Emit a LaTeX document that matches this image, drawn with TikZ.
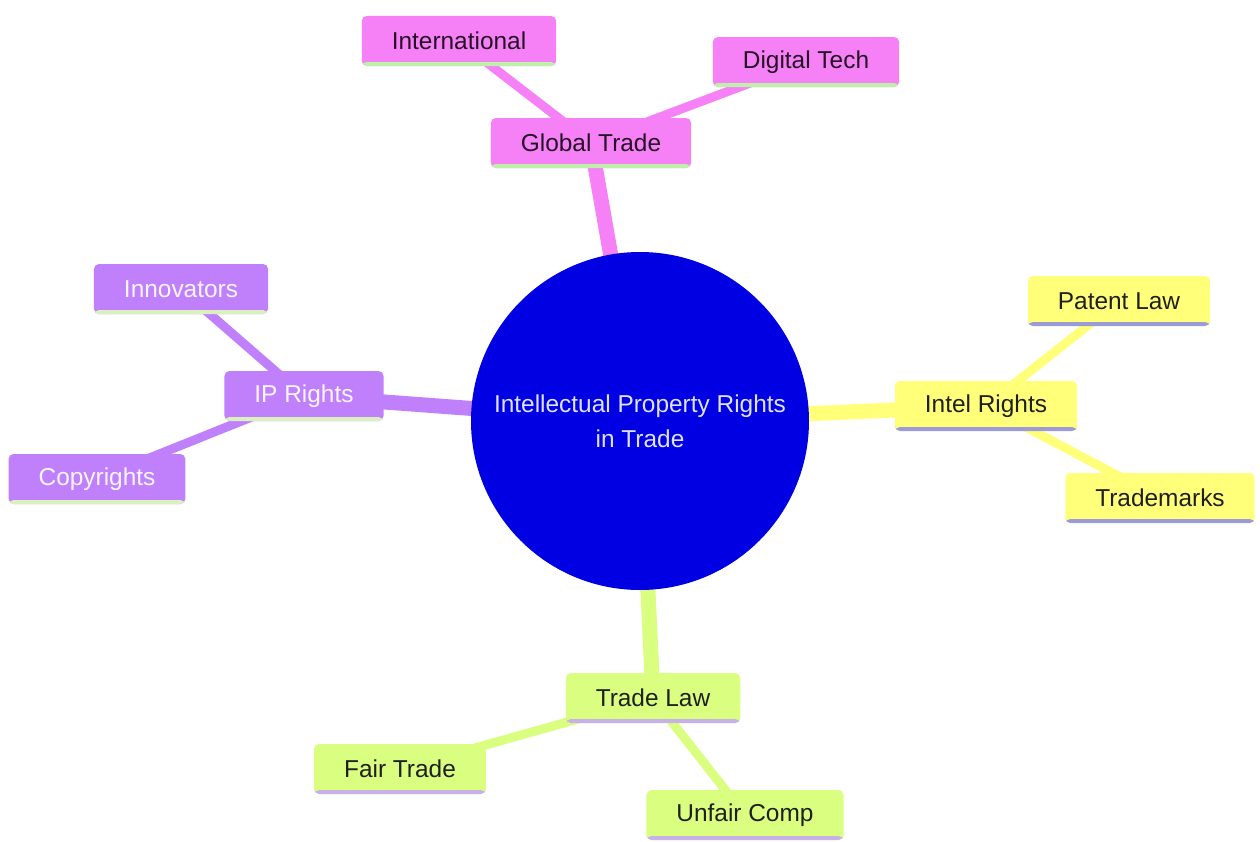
\documentclass[tikz,border=0pt]{standalone}
\usepackage{fontspec}
\setmainfont{Liberation Sans}
\usepackage{tikz}
\pgfdeclarelayer{edgelayer}
\pgfdeclarelayer{nodelayer}
\pgfsetlayers{edgelayer,nodelayer,main}
\definecolor{rootblue}{RGB}{0,0,226}
\definecolor{pinkfill}{RGB}{246,128,246}
\definecolor{purplefill}{RGB}{192,128,252}
\definecolor{yellowfill}{RGB}{255,255,122}
\definecolor{limefill}{RGB}{218,255,128}
\definecolor{pinkline}{RGB}{190,240,170}
\definecolor{purpleline}{RGB}{218,240,190}
\definecolor{yellowline}{RGB}{155,155,216}
\definecolor{limeline}{RGB}{200,176,232}
\tikzset{underline/.style={path picture={\fill[#1] ([yshift=0.08cm]path picture bounding box.south west) rectangle (path picture bounding box.south east);}}}
\tikzstyle{root}=[circle,fill=rootblue,text=white!88!blue,minimum size=6.76cm,align=center,font=\fontsize{13.9pt}{19.9pt}\selectfont]
\tikzstyle{leaf}=[rectangle,rounded corners=0.1cm,minimum height=1cm,inner xsep=0.6cm,font=\fontsize{13.9pt}{16pt}\selectfont]
\tikzstyle{pinkbox}=[leaf,fill=pinkfill,text=black!85!pinkfill,underline=pinkline]
\tikzstyle{purplebox}=[leaf,fill=purplefill,text=white!92!purplefill,underline=purpleline]
\tikzstyle{yellowbox}=[leaf,fill=yellowfill,text=black!88,underline=yellowline]
\tikzstyle{limebox}=[leaf,fill=limefill,text=black!88,underline=limeline]
\tikzstyle{mainedge}=[line width=0.3cm]
\tikzstyle{subedge}=[line width=0.18cm]

\begin{document}
\begin{tikzpicture}
	\useasboundingbox (-12.8, -8.4) rectangle (12.4, 8.42);
	\begin{pgfonlayer}{nodelayer}
		\node [style=root] (0) at (0, 0) {Intellectual Property Rights\\in Trade};
		\node [style=pinkbox] (1) at (-0.98, 5.56) {Global Trade};
		\node [style=pinkbox] (2) at (-3.62, 7.6) {International};
		\node [style=pinkbox] (3) at (3.32, 7.18) {Digital Tech};
		\node [style=purplebox] (4) at (-6.72, 0.5) {IP Rights};
		\node [style=purplebox] (5) at (-9.18, 2.64) {Innovators};
		\node [style=purplebox] (6) at (-10.86, -1.16) {Copyrights};
		\node [style=yellowbox] (7) at (6.92, 0.3) {Intel Rights};
		\node [style=yellowbox] (8) at (9.58, 2.4) {Patent Law};
		\node [style=yellowbox] (9) at (10.4, -1.54) {Trademarks};
		\node [style=limebox] (10) at (0.26, -5.54) {Trade Law};
		\node [style=limebox] (11) at (-4.8, -6.96) {Fair Trade};
		\node [style=limebox] (12) at (2.1, -7.88) {Unfair Comp};
	\end{pgfonlayer}
	\begin{pgfonlayer}{edgelayer}
		\draw [style=mainedge, draw=pinkfill] (0.center) to (1.center);
		\draw [style=subedge, draw=pinkfill] (1.center) to (2.center);
		\draw [style=subedge, draw=pinkfill] (1.center) to (3.center);
		\draw [style=mainedge, draw=purplefill] (0.center) to (4.center);
		\draw [style=subedge, draw=purplefill] (4.center) to (5.center);
		\draw [style=subedge, draw=purplefill] (4.center) to (6.center);
		\draw [style=mainedge, draw=yellowfill] (0.center) to (7.center);
		\draw [style=subedge, draw=yellowfill] (7.center) to (8.center);
		\draw [style=subedge, draw=yellowfill] (7.center) to (9.center);
		\draw [style=mainedge, draw=limefill] (0.center) to (10.center);
		\draw [style=subedge, draw=limefill] (10.center) to (11.center);
		\draw [style=subedge, draw=limefill] (10.center) to (12.center);
	\end{pgfonlayer}
\end{tikzpicture}
\end{document}
